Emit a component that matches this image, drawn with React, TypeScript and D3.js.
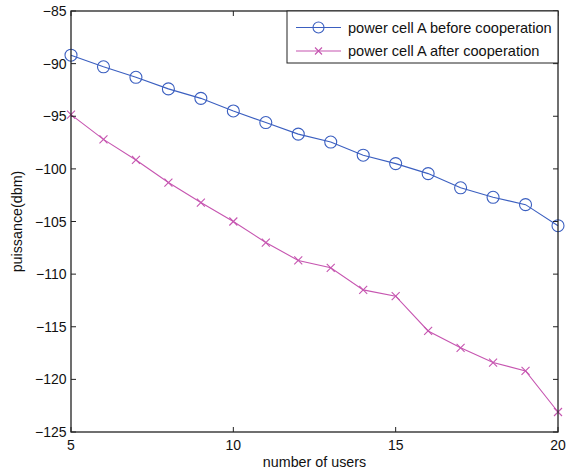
import React from "react";
import * as d3 from "d3";

const users = [5, 6, 7, 8, 9, 10, 11, 12, 13, 14, 15, 16, 17, 18, 19, 20];
const before = [-89.2, -90.3, -91.3, -92.4, -93.3, -94.5, -95.6, -96.7, -97.45, -98.7, -99.5, -100.45, -101.8, -102.7, -103.4, -105.4];
const after = [-94.85, -97.2, -99.15, -101.3, -103.2, -105.0, -107.0, -108.7, -109.4, -111.5, -112.1, -115.4, -117.0, -118.4, -119.2, -123.1];
const xTicks = [5, 10, 15, 20];
const yTicks = [-85, -90, -95, -100, -105, -110, -115, -120, -125];
const seriesNames = ["power cell A before cooperation", "power cell A after cooperation"];

const W = 575, H = 473;
const L = 71, R = 558, T = 11, B = 432;
const BLUE = "#3b5fc0";
const PINK = "#c655b0";
const FONT = "'Liberation Sans', Arial, sans-serif";

export default function App() {
  const x = d3.scaleLinear().domain([5, 20]).range([L, R]);
  const y = d3.scaleLinear().domain([-125, -85]).range([B, T]);
  const line = d3.line<number>().x((_, i) => x(users[i])).y((d) => y(d));
  const tl = 5;
  return (
    <svg width={W} height={H} style={{ position: "absolute", left: 0, top: 0 }} fontFamily={FONT}>
      <rect x={0} y={0} width={W} height={H} fill="#fff" />
      <path d={line(before) || ""} fill="none" stroke={BLUE} strokeWidth={1.1} />
      <path d={line(after) || ""} fill="none" stroke={PINK} strokeWidth={1.1} />
      {before.map((v, i) => (
        <circle key={"b" + i} cx={x(users[i])} cy={y(v)} r={6} fill="none" stroke={BLUE} strokeWidth={1.1} />
      ))}
      {after.map((v, i) => {
        const cx = x(users[i]), cy = y(v), s = 4;
        return (
          <path key={"a" + i} d={`M${cx - s},${cy - s}L${cx + s},${cy + s}M${cx - s},${cy + s}L${cx + s},${cy - s}`} stroke={PINK} strokeWidth={1.1} />
        );
      })}
      <rect x={L} y={T} width={R - L} height={B - T} fill="none" stroke="#222" strokeWidth={1.3} />
      {xTicks.map((t) => (
        <g key={"xt" + t}>
          <line x1={x(t)} x2={x(t)} y1={B} y2={B - tl} stroke="#222" strokeWidth={1} />
          <line x1={x(t)} x2={x(t)} y1={T} y2={T + tl} stroke="#222" strokeWidth={1} />
          <text x={x(t)} y={B + 18} textAnchor="middle" fontSize={14} fill="#111">{t}</text>
        </g>
      ))}
      {yTicks.map((t) => (
        <g key={"yt" + t}>
          <line x1={L} x2={L + tl} y1={y(t)} y2={y(t)} stroke="#222" strokeWidth={1} />
          <line x1={R} x2={R - tl} y1={y(t)} y2={y(t)} stroke="#222" strokeWidth={1} />
          <text x={L - 4.5} y={y(t) + 5} textAnchor="end" fontSize={14} fill="#111">{"\u2212" + Math.abs(t)}</text>
        </g>
      ))}
      <text x={(L + R) / 2} y={467} textAnchor="middle" fontSize={14.3} fill="#111">number of users</text>
      <text transform={`translate(22,${(T + B) / 2}) rotate(-90)`} textAnchor="middle" fontSize={14.3} fill="#111">puissance(dbm)</text>
      <rect x={287} y={T} width={R - 287} height={52} fill="#fff" stroke="#222" strokeWidth={1} />
      <line x1={296} x2={341} y1={27.5} y2={27.5} stroke={BLUE} strokeWidth={1.1} />
      <circle cx={318.5} cy={27.5} r={5.5} fill="none" stroke={BLUE} strokeWidth={1.1} />
      <text x={348} y={32.5} fontSize={14.6} fill="#111">{seriesNames[0]}</text>
      <line x1={296} x2={341} y1={51} y2={51} stroke={PINK} strokeWidth={1.1} />
      <path d={`M${318.5 - 3.5},${51 - 3.5}L${318.5 + 3.5},${51 + 3.5}M${318.5 - 3.5},${51 + 3.5}L${318.5 + 3.5},${51 - 3.5}`} stroke={PINK} strokeWidth={1.1} />
      <text x={348} y={56} fontSize={14.6} fill="#111">{seriesNames[1]}</text>
    </svg>
  );
}
